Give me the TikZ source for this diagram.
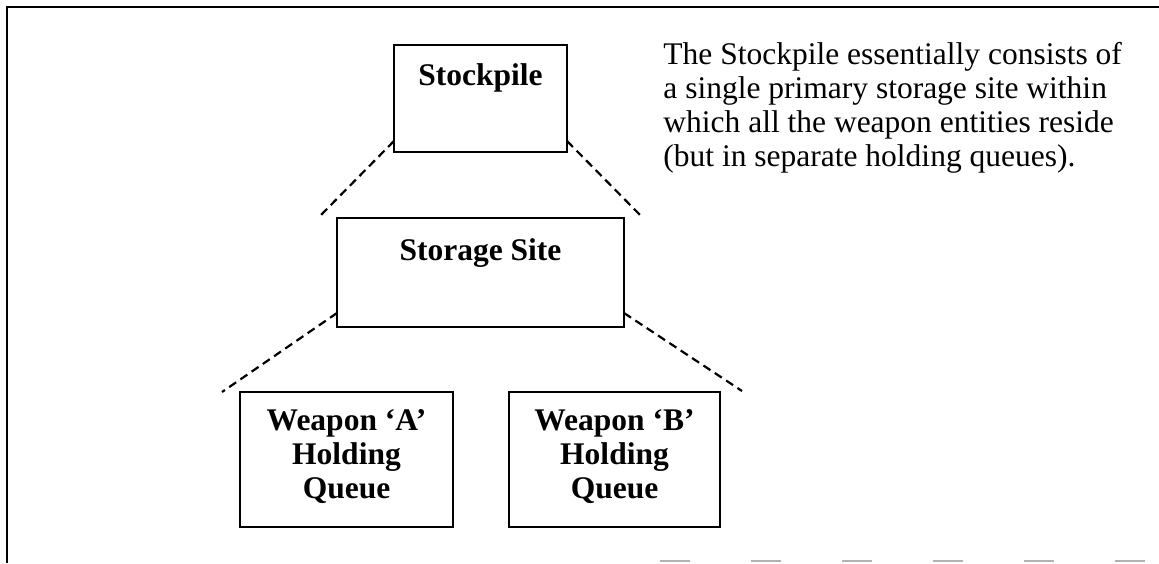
\documentclass[tikz,border=0pt]{standalone}
\usepackage{fontspec}
\setmainfont{Liberation Serif}
\usetikzlibrary{calc}

% Boxes of the hierarchy: text hangs from the top edge of a fixed-size frame
\tikzset{
  unitbox/.style={draw, line width=1.2pt, inner sep=0pt, outer sep=0pt,
    anchor=north west, font=\fontsize{15.75pt}{17pt}\selectfont\bfseries},
  link/.style={line width=1.1pt, dash pattern=on 4.2pt off 2.6pt},
  frameline/.style={line width=1.2pt},
  noteline/.style={gray!60, line width=0.7pt, dash pattern=on 15pt off 30.5pt},
  notetext/.style={anchor=base west, inner sep=0pt,
    font=\fontsize{15.75pt}{17pt}\selectfont},
}
% #1 width, #2 height, #3 first baseline below top, #4 text
\newcommand\hangtext[4]{\parbox[t][#2][t]{#1}{\centering\rule{0pt}{#3}#4}}

\begin{document}
\begin{tikzpicture}[x=0.5pt, y=-0.5pt]
\useasboundingbox (0,0) rectangle (1159,563);

% surrounding frame
\draw[frameline] (1159,7) -- (7,7) -- (7,563);
\draw[noteline] (660,561) -- (1159,561);

% hierarchy boxes
\node[unitbox] (stock) at (394,45)  {\hangtext{86.5pt}{53.5pt}{20pt}{Stockpile}};
\node[unitbox] (site)  at (337,218) {\hangtext{143.5pt}{54.5pt}{21pt}{Storage Site}};
\node[unitbox] (qa)    at (240,392) {\hangtext{106.5pt}{67.5pt}{19pt}{Weapon ‘A’\\Holding\\Queue}};
\node[unitbox] (qb)    at (509,392) {\hangtext{105.5pt}{67.5pt}{19pt}{Weapon ‘B’\\Holding\\Queue}};

% explanatory note
\node[notetext] (note) at (663,64) {\parbox[t]{260pt}{\raggedright
  The Stockpile essentially consists of\\
  a single primary storage site within\\
  which all the weapon entities reside\\
  (but in separate holding queues).}};

% open ends of the dashed fan-out lines
\coordinate (sl) at (318,218);
\coordinate (sr) at (643,218);
\coordinate (ql) at (222,392);
\coordinate (qr) at (742,391);

\draw[link] ($(stock.south west)+(0,-11)$) -- (sl);
\draw[link] ($(stock.south east)+(0,-11)$) -- (sr);
\draw[link] ($(site.south west)+(0,-14)$) -- (ql);
\draw[link] ($(site.south east)+(0,-14)$) -- (qr);
\end{tikzpicture}
\end{document}
